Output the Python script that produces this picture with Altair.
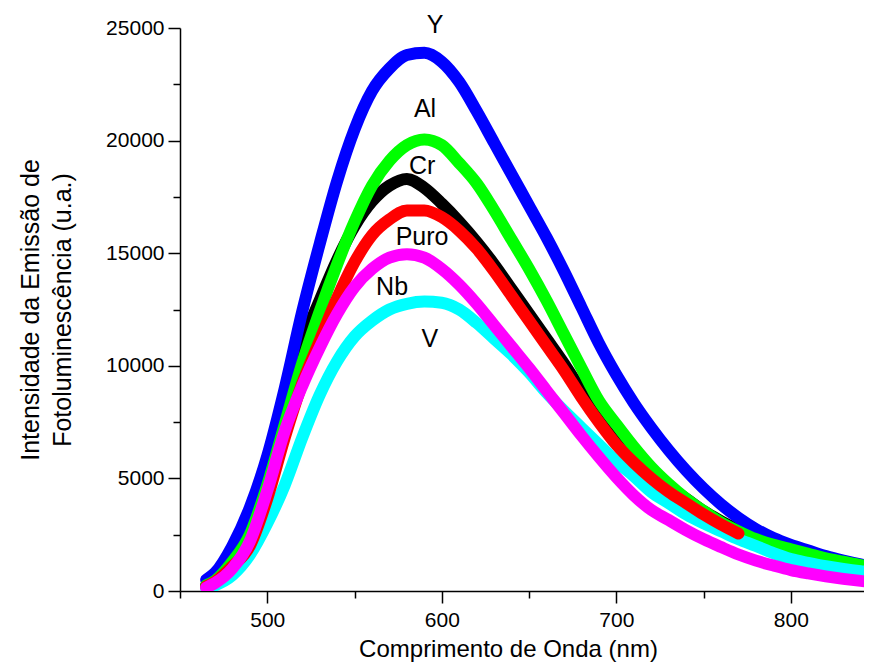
import altair as alt
import pandas as pd

# ---- data ----
wl_full = [465, 470, 480, 490, 500, 510, 520, 530, 540, 550, 560, 570, 580, 590,
           600, 610, 620, 630, 640, 650, 660, 670, 680, 690, 700, 710, 720, 730,
           740, 750, 760, 770, 780, 790, 800, 810, 820, 830, 840, 850]
wl_short = wl_full[:32]  # 465 .. 770

y_Y = [500, 800, 2000, 3700, 6000, 9000, 12400, 15400, 18200, 20500, 22200, 23200,
       23800, 23900, 23500, 22600, 21300, 19900, 18500, 17100, 15700, 14200, 12600,
       11000, 9600, 8350, 7250, 6250, 5350, 4550, 3850, 3250, 2750, 2350, 2050, 1800,
       1550, 1350, 1180, 1050]
y_Al = [250, 450, 1300, 2500, 4700, 7400, 10100, 12400, 14500, 16400, 18000, 19100,
        19800, 20050, 19800, 19000, 18100, 16900, 15600, 14300, 12900, 11400, 9900,
        8450, 7400, 6400, 5500, 4750, 4100, 3550, 3050, 2650, 2300, 2050, 1850, 1650,
        1450, 1300, 1150, 1050]
y_Cr = [250, 450, 1300, 2800, 5300, 8400, 11000, 12900, 14700, 16200, 17300, 18000,
        18300, 17900, 17200, 16400, 15500, 14500, 13400, 12300, 11200, 10100, 8900,
        7700, 6700, 5900, 5200, 4600, 4100, 3550, 3100, 2700]
y_Puro = [200, 400, 1100, 2000, 4100, 6800, 9200, 11100, 13000, 14600, 15800, 16500,
          16900, 16900, 16600, 16000, 15200, 14200, 13100, 12000, 10900, 9800, 8600,
          7500, 6500, 5700, 5000, 4400, 3900, 3400, 2950, 2550]
y_Nb = [150, 350, 1000, 2200, 4450, 7100, 9100, 10800, 12300, 13500, 14300, 14800,
        14950, 14800, 14300, 13600, 12750, 11800, 10850, 9900, 8900, 7900, 6900, 5950,
        5050, 4250, 3600, 3150, 2700, 2300, 1950, 1620, 1350, 1130, 930, 780, 650,
        540, 450, 380]
y_V = [120, 250, 700, 1600, 3000, 4700, 6800, 8700, 10200, 11300, 12000, 12500, 12750,
       12850, 12800, 12500, 11900, 11200, 10500, 9700, 8800, 8000, 7250, 6500, 5750,
       5100, 4400, 3900, 3400, 3000, 2650, 2300, 2000, 1680, 1420, 1250, 1100, 980,
       880, 800]

# drawing order (bottom -> top)
series_order = ["Cr", "Y", "Al", "V", "Puro", "Nb"]
series_wl = {"Y": wl_full, "Al": wl_full, "Cr": wl_short, "Puro": wl_short,
             "Nb": wl_full, "V": wl_full}
series_vals = {"Y": y_Y, "Al": y_Al, "Cr": y_Cr, "Puro": y_Puro, "Nb": y_Nb, "V": y_V}
series_color = {"Y": "#0000FF", "Al": "#00FF00", "Cr": "#000000", "Puro": "#FF0000",
                "Nb": "#FF00FF", "V": "#00FFFF"}

label_text = ["Y", "Al", "Cr", "Puro", "Nb", "V"]
label_nm = [596.1, 590.4, 588.7, 588.7, 571.5, 593.2]
label_int = [25130, 21400, 18870, 15720, 13500, 11190]

x_major = [500, 600, 700, 800]
x_minor = [450, 550, 650, 750]
y_major = [0, 5000, 10000, 15000, 20000, 25000]
y_minor = [2500, 7500, 12500, 17500, 22500]

FONT = "Liberation Sans"
XDOM = [450, 841.9]
YDOM = [0, 25000]

xscale = alt.Scale(domain=XDOM, nice=False, zero=False)
yscale = alt.Scale(domain=YDOM, nice=False, zero=False)

main_x_axis = alt.Axis(values=x_major, orient="bottom", title="Comprimento de Onda (nm)",
                       grid=False, tickSize=12, tickWidth=1.5, tickColor="black",
                       domainColor="black", domainWidth=1.5, labelFont=FONT,
                       labelFontSize=21, labelColor="black", labelPadding=6,
                       titleFont=FONT, titleFontSize=24, titleFontWeight="normal",
                       titleColor="black", titleX=328, titleY=46, titleBaseline="top",
                       titleAlign="center", labelFlush=False)
main_y_axis = alt.Axis(values=y_major, orient="left",
                       title=["Intensidade da Emissão de", "Fotoluminescência (u.a.)"],
                       grid=False, tickSize=12, tickWidth=1.5, tickColor="black",
                       domainColor="black", domainWidth=1.5, labelFont=FONT,
                       labelFontSize=21, labelColor="black", labelPadding=4,
                       titleFont=FONT, titleFontSize=25, titleFontWeight="normal",
                       titleColor="black", titleX=-150, titleY=281.5, titleAngle=270,
                       titleBaseline="middle", titleAlign="center", titleLineHeight=32,
                       labelFlush=False, format="d")
minor_x_axis = alt.Axis(values=x_minor, orient="bottom", title=None, labels=False,
                        domain=False, grid=False, tickSize=7, tickWidth=1.5,
                        tickColor="black")
minor_y_axis = alt.Axis(values=y_minor, orient="left", title=None, labels=False,
                        domain=False, grid=False, tickSize=7, tickWidth=1.5,
                        tickColor="black")

layers = []
for i, name in enumerate(series_order):
    d = pd.DataFrame({"nm": series_wl[name], "intensity": series_vals[name]})
    layers.append(
        alt.Chart(d).mark_line(strokeWidth=12, interpolate="monotone", clip=True,
                               strokeCap="round", strokeJoin="round",
                               color=series_color[name]).encode(
            x=alt.X("nm:Q", scale=xscale, axis=main_x_axis if i == 0 else None),
            y=alt.Y("intensity:Q", scale=yscale, axis=main_y_axis if i == 0 else None),
        )
    )

# minor ticks layer (invisible mark, own axes)
minor_df = pd.DataFrame({"nm": [XDOM[0], XDOM[1]], "intensity": [YDOM[0], YDOM[1]]})
layers.append(
    alt.Chart(minor_df).mark_point(opacity=0).encode(
        x=alt.X("nm:Q", scale=xscale, axis=minor_x_axis),
        y=alt.Y("intensity:Q", scale=yscale, axis=minor_y_axis),
    )
)

lab_df = pd.DataFrame({"label": label_text, "nm": label_nm, "intensity": label_int})
layers.append(
    alt.Chart(lab_df).mark_text(font=FONT, fontSize=25, color="black", align="center",
                                baseline="middle").encode(
        x=alt.X("nm:Q", scale=xscale, axis=None),
        y=alt.Y("intensity:Q", scale=yscale, axis=None),
        text="label:N",
    )
)

chart = alt.layer(*layers).resolve_axis(x="independent", y="independent").properties(
    width=684, height=563,
    autosize=alt.AutoSizeParams(type="none"),
    padding={"left": 172, "top": 20, "right": 0, "bottom": 73},
    background="white",
).configure_view(stroke=None)

chart.save("out.html", embed_options={"renderer": "svg", "actions": False})
